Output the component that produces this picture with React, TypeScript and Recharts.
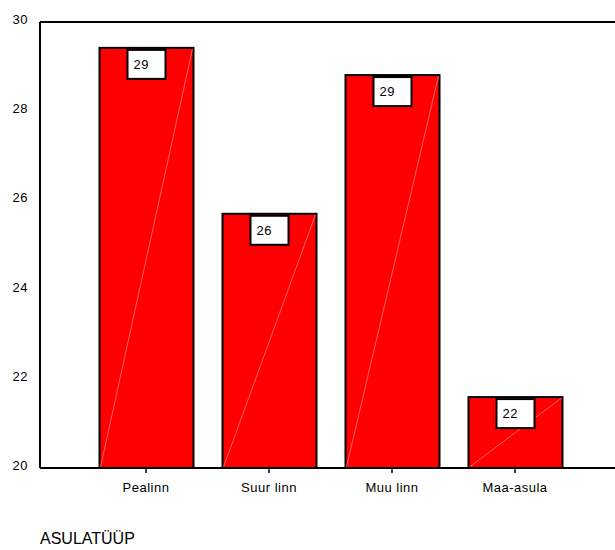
import React from 'react';
import { BarChart, Bar, XAxis, YAxis, ReferenceLine, LabelList } from 'recharts';

const categories = ['Pealinn', 'Suur linn', 'Muu linn', 'Maa-asula'];
const means = [29.42, 25.7, 28.81, 21.59];
const yTicks = [20, 22, 24, 26, 28, 30];

const data = categories.map((name, i) => ({ name, value: means[i] }));

const FONT = '"Liberation Sans", Arial, sans-serif';

// red bar with black outline and the faint diagonal seen in the original
const BarShape = (props: any) => {
  const { x, y, width, height } = props;
  return (
    <g>
      <rect x={x} y={y} width={width} height={height} fill="#ff0000" stroke="#000" strokeWidth={2} />
      <line x1={x + 1} y1={y + height - 1} x2={x + width - 1} y2={y + 1} stroke="#ff9090" strokeWidth={0.7} />
    </g>
  );
};

const ValueLabel = (props: any) => {
  const { x, y, width, value } = props;
  const cx = x + width / 2;
  return (
    <g>
      <rect x={cx - 19} y={y + 2} width={38} height={29} fill="#fff" stroke="#000" strokeWidth={2} />
      <text x={cx - 13} y={y + 21} fontSize={13} letterSpacing={0.5} fontFamily={FONT} fill="#000">
        {Math.round(value)}
      </text>
    </g>
  );
};

const YTick = (props: any) => {
  const { y, payload } = props;
  return (
    <text x={28} y={y + 2} textAnchor="end" fontSize={13} letterSpacing={0.5} fontFamily={FONT} fill="#000">
      {payload.value}
    </text>
  );
};

const XTick = (props: any) => {
  const { x, payload } = props;
  return (
    <text x={x} y={492} textAnchor="middle" fontSize={13} letterSpacing={0.5} fontFamily={FONT} fill="#000">
      {payload.value}
    </text>
  );
};

export default function App() {
  return (
    <div style={{ position: 'absolute', left: 0, top: 0, width: 615, height: 550, background: '#fff' }}>
      <BarChart
        width={615}
        height={550}
        data={data}
        margin={{ top: 22, right: -6, bottom: 52, left: 0 }}
      >
        <XAxis
          dataKey="name"
          padding={{ left: 44.5, right: 44.5 }}
          axisLine={{ stroke: '#000', strokeWidth: 2 }}
          tickLine={{ stroke: '#000', strokeWidth: 1.5 }}
          tickSize={5}
          height={30}
          tick={<XTick />}
        />
        <YAxis
          type="number"
          domain={[20, 30]}
          ticks={yTicks}
          allowDataOverflow
          width={40}
          axisLine={{ stroke: '#000', strokeWidth: 2 }}
          tickLine={false}
          tick={<YTick />}
        />
        <ReferenceLine y={30} stroke="#000" strokeWidth={2} />
        <Bar dataKey="value" barSize={94} shape={<BarShape />} isAnimationActive={false}>
          <LabelList dataKey="value" content={<ValueLabel />} />
        </Bar>
      </BarChart>
      <div
        style={{
          position: 'absolute',
          left: 40,
          top: 529,
          fontSize: 16,
          fontFamily: FONT,
          color: '#000',
          lineHeight: '19px',
        }}
      >
        ASULATÜÜP
      </div>
    </div>
  );
}
